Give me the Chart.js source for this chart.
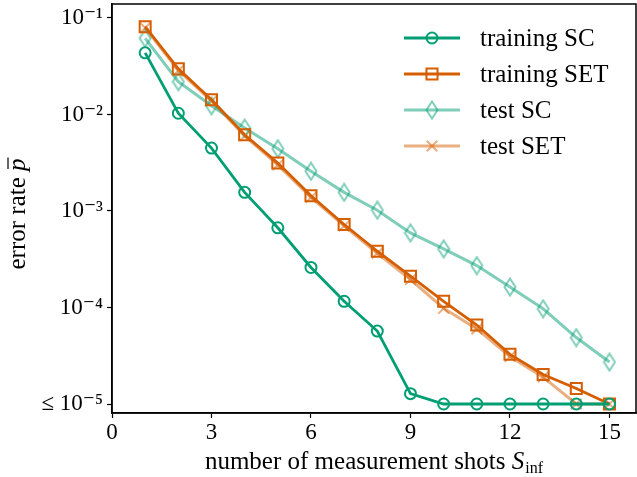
<!DOCTYPE html>
<html>
<head>
<meta charset="utf-8">
<script src="https://cdn.jsdelivr.net/npm/chart.js@4"></script>
<style>
  html, body { margin: 0; padding: 0; background: #fff; }
  #wrap { width: 637px; height: 477px; }
</style>
</head>
<body>
<div id="wrap"><canvas id="chart" width="637" height="477"></canvas></div>
<script>
// data
const shots = [1, 2, 3, 4, 5, 6, 7, 8, 9, 10, 11, 12, 13, 14, 15];
const trainingSC = [0.0435, 0.0103, 0.00449, 0.00156, 6.7e-4, 2.6e-4, 1.16e-4, 5.7e-5, 1.28e-5, 1e-5, 1e-5, 1e-5, 1e-5, 1e-5, 1e-5];
const trainingSET = [0.0813, 0.0297, 0.0142, 0.00616, 0.00314, 0.00144, 7.24e-4, 3.83e-4, 2.11e-4, 1.16e-4, 6.58e-5, 3.27e-5, 2.02e-5, 1.45e-5, 1e-5];
const testSC = [0.0616, 0.0219, 0.0123, 0.00723, 0.00442, 0.00258, 0.00156, 0.00102, 5.93e-4, 4.05e-4, 2.72e-4, 1.63e-4, 9.7e-5, 4.88e-5, 2.72e-5];
const testSET = [0.079, 0.0285, 0.0138, 0.0060, 0.0030, 0.00138, 7.0e-4, 3.65e-4, 1.95e-4, 9.8e-5, 6.0e-5, 3.1e-5, 1.9e-5, 1e-5, 1e-5];

const seriesNames = ['training SC', 'training SET', 'test SC', 'test SET'];
const xTicks = [0, 3, 6, 9, 12, 15];
const yTicks = [1e-1, 1e-2, 1e-3, 1e-4, 1e-5];
const yTickLabels = ['10\u207B\u00B9', '10\u207B\u00B2', '10\u207B\u00B3', '10\u207B\u2074', '\u2264 10\u207B\u2075'];

const FONT = '"Liberation Serif", "DejaVu Serif", serif';
const green = 'rgb(0,158,115)';
const orange = 'rgb(213,94,0)';
const greenLight = 'rgba(0,158,115,0.5)';
const orangeLight = 'rgba(213,94,0,0.5)';

// thin diamond marker (matplotlib 'd')
function thinDiamond(color) {
    const c = document.createElement('canvas');
    c.width = 14; c.height = 20;
    const g = c.getContext('2d');
    g.strokeStyle = color;
    g.lineWidth = 2;
    g.beginPath();
    g.moveTo(7, 1.5); g.lineTo(12.5, 10); g.lineTo(7, 18.5); g.lineTo(1.5, 10); g.closePath();
    g.stroke();
    return c;
}
const diamondImg = thinDiamond(greenLight);

const pts = arr => shots.map((s, i) => ({ x: s, y: arr[i] }));

const datasets = [
    { label: seriesNames[0], data: pts(trainingSC), borderColor: green, backgroundColor: 'rgba(255,255,255,0)',
      borderWidth: 2.8, pointStyle: 'circle', pointRadius: 5.5, pointBorderWidth: 2 },
    { label: seriesNames[1], data: pts(trainingSET), borderColor: orange, backgroundColor: 'rgba(255,255,255,0)',
      borderWidth: 2.8, pointStyle: 'rect', pointRadius: 7.8, pointBorderWidth: 2 },
    { label: seriesNames[2], data: pts(testSC), borderColor: greenLight, backgroundColor: 'rgba(255,255,255,0)',
      borderWidth: 3, pointStyle: diamondImg, pointRadius: 7, pointBorderWidth: 2 },
    { label: seriesNames[3], data: pts(testSET), borderColor: orangeLight, backgroundColor: 'rgba(255,255,255,0)',
      borderWidth: 3, pointStyle: 'crossRot', pointRadius: 7.5, pointBorderWidth: 2 }
];

// frame, legend and axis titles
const extras = {
    id: 'extras',
    afterDraw(chart) {
        const ctx = chart.ctx;
        const a = chart.chartArea;
        ctx.save();
        ctx.strokeStyle = '#000';
        ctx.lineWidth = 1.5;
        ctx.strokeRect(a.left, a.top, a.right - a.left, a.bottom - a.top);

        // legend
        const rows = [38, 74, 110, 146];
        ctx.font = '25px ' + FONT;
        ctx.textBaseline = 'middle';
        ctx.textAlign = 'left';
        chart.data.datasets.forEach((ds, i) => {
            const y = rows[i];
            ctx.strokeStyle = ds.borderColor;
            ctx.lineWidth = ds.borderWidth;
            ctx.beginPath();
            ctx.moveTo(404, y); ctx.lineTo(460, y);
            ctx.stroke();
            ctx.lineWidth = ds.pointBorderWidth;
            ctx.fillStyle = 'rgba(255,255,255,0)';
            Chart.helpers.drawPoint(ctx, { pointStyle: ds.pointStyle, radius: ds.pointRadius, rotation: 0, borderWidth: ds.pointBorderWidth }, 432, y);
            ctx.fillStyle = '#000';
            ctx.fillText(ds.label, 480, y + 1);
        });

        // x title
        ctx.fillStyle = '#000';
        ctx.textBaseline = 'alphabetic';
        const t1 = 'number of measurement shots ';
        const fReg = '25px ' + FONT, fIt = 'italic 25px ' + FONT, fSub = '16px ' + FONT;
        ctx.font = fReg; const w1 = ctx.measureText(t1).width;
        ctx.font = fIt; const w2 = ctx.measureText('S').width;
        ctx.font = fSub; const w3 = ctx.measureText('inf').width;
        let x = (a.left + a.right) / 2 - (w1 + w2 + w3 + 1) / 2;
        const yb = 469;
        ctx.font = fReg; ctx.fillText(t1, x, yb); x += w1;
        ctx.font = fIt; ctx.fillText('S', x, yb); x += w2 + 1;
        ctx.font = fSub; ctx.fillText('inf', x, yb + 4);

        // y title
        ctx.translate(25, 214);
        ctx.rotate(-Math.PI / 2);
        const s1 = 'error rate ';
        ctx.font = fReg; const v1 = ctx.measureText(s1).width;
        ctx.font = fIt; const v2 = ctx.measureText('p').width;
        let px = -(v1 + v2) / 2;
        ctx.font = fReg; ctx.fillText(s1, px, 0); px += v1;
        ctx.font = fIt; ctx.fillText('p', px, 0);
        ctx.lineWidth = 1.2;
        ctx.strokeStyle = '#000';
        ctx.beginPath();
        ctx.moveTo(px + 2, -17); ctx.lineTo(px + v2 + 1, -17);
        ctx.stroke();
        ctx.restore();
    }
};

new Chart(document.getElementById('chart'), {
    type: 'line',
    data: { datasets },
    options: {
        responsive: false,
        animation: false,
        devicePixelRatio: 1,
        layout: { autoPadding: false, padding: { top: 4, right: 1, left: 0, bottom: 0 } },
        plugins: { legend: { display: false }, tooltip: { enabled: false } },
        scales: {
            x: {
                type: 'linear',
                min: 0, max: 15.8,
                afterBuildTicks: s => { s.ticks = xTicks.map(v => ({ value: v })); },
                afterFit: s => { s.height = 64; s.paddingLeft = 0; s.paddingRight = 0; },
                ticks: { color: '#000', font: { family: FONT, size: 23 }, padding: 1, maxRotation: 0, autoSkip: false },
                grid: { drawOnChartArea: false, tickLength: 5, tickColor: '#000', tickWidth: 1.2 },
                border: { display: true, color: '#000', width: 1.5 }
            },
            y: {
                type: 'logarithmic',
                min: 8.07e-6, max: 0.1396,
                afterBuildTicks: s => { s.ticks = yTicks.map(v => ({ value: v })); },
                afterFit: s => { s.width = 112; s.paddingTop = 0; s.paddingBottom = 0; },
                ticks: {
                    color: '#000', font: { family: FONT, size: 23 }, padding: 4, autoSkip: false,
                    callback: v => { const i = yTicks.findIndex(t => Math.abs(t - v) / t < 1e-6); return i >= 0 ? yTickLabels[i] : ''; }
                },
                grid: { drawOnChartArea: false, tickLength: 5, tickColor: '#000', tickWidth: 1.2 },
                border: { display: true, color: '#000', width: 1.5 }
            }
        }
    },
    plugins: [extras]
});
</script>
</body>
</html>
